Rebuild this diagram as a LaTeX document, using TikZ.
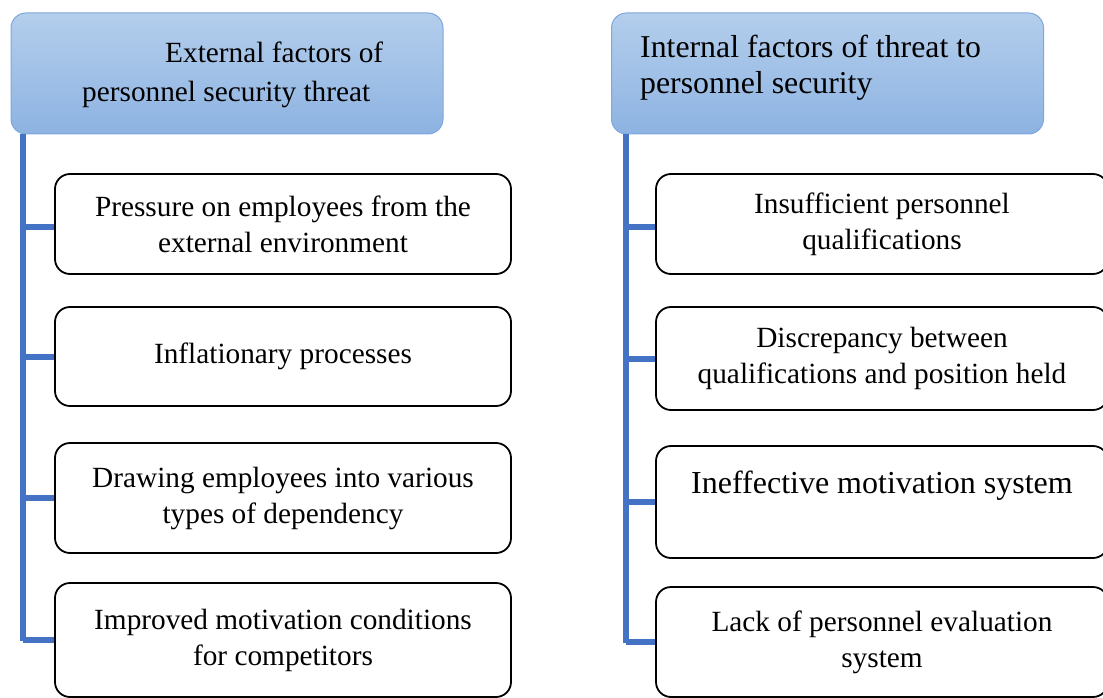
\documentclass[tikz,border=0pt]{standalone}
\usepackage{fontspec}
\setmainfont{Liberation Serif}
\definecolor{trunkblue}{HTML}{4472C4}
\definecolor{headtop}{HTML}{B4CEEC}
\definecolor{headbot}{HTML}{8DB3E2}
\definecolor{headline}{HTML}{7EA8DC}
\begin{document}
\begin{tikzpicture}[x=1pt,y=-1pt,
  every node/.style={font=\fontsize{29.3}{36}\selectfont},
  header/.style={draw=headline, line width=1pt, rounded corners=15pt, top color=headtop, bottom color=headbot, minimum width=432pt, minimum height=121pt, inner sep=0pt},
  headtext/.style={anchor=base west, inner sep=0pt},
  factorbox/.style={draw=black, line width=1.8pt, rounded corners=15pt, align=center, inner sep=0pt},
  trunk/.style={draw=trunkblue, line width=6.5pt},
  branch/.style={draw=trunkblue, line width=6pt}
]
\useasboundingbox (0,0) rectangle (1103,698);
% headers
\node[header] (hl) at (227,73.5) {};
\node[header] (hr) at (827.5,73.5) {};
\node[headtext] (hl1) at (165,63) {External factors of};
\node[headtext] (hl2) at (82,102) {personnel security threat};
\node[headtext, font=\fontsize{31.8}{36}\selectfont] (hr1) at (640,58) {Internal factors of threat to};
\node[headtext, font=\fontsize{31.8}{36}\selectfont] (hr2) at (640,94) {personnel security};
% left boxes
\node[factorbox, minimum width=456pt, minimum height=100pt] (l1) at (283,224) {Pressure on employees from the\\external environment};
\node[factorbox, minimum width=456pt, minimum height=99pt] (l2) at (283,356.5) {Inflationary processes};
\node[factorbox, minimum width=456pt, minimum height=110pt] (l3) at (283,498) {Drawing employees into various\\types of dependency};
\node[factorbox, minimum width=456pt, minimum height=114pt] (l4) at (283,640) {Improved motivation conditions\\for competitors};
% right boxes
\node[factorbox, minimum width=452pt, minimum height=100pt] (r1) at (882,224) {Insufficient personnel\\qualifications};
\node[factorbox, minimum width=452pt, minimum height=103pt] (r2) at (882,358.5) {Discrepancy between\\qualifications and position held};
\node[factorbox, minimum width=452pt, minimum height=112pt, font=\fontsize{32}{40}\selectfont] (r3) at (882,502) {Ineffective motivation system\\\mbox{}};
\node[factorbox, minimum width=452pt, minimum height=110pt] (r4) at (882,642) {Lack of personnel evaluation\\system};
% connectors
\coordinate (lt) at (23,134);
\coordinate (rt) at (626,134);
\draw[trunk] (lt) -- ([yshift=-1pt]lt |- l4.west);
\draw[branch] ([yshift=-3pt]lt |- l1.west) -- ([yshift=-3pt]l1.west);
\draw[branch] (lt |- l2.west) -- (l2.west);
\draw[branch] (lt |- l3.west) -- (l3.west);
\draw[branch] (lt |- l4.west) -- (l4.west);
\draw[trunk] (rt) -- ([yshift=-1pt]rt |- r4.west);
\draw[branch] ([yshift=-3pt]rt |- r1.west) -- ([yshift=-3pt]r1.west);
\draw[branch] (rt |- r2.west) -- (r2.west);
\draw[branch] (rt |- r3.west) -- (r3.west);
\draw[branch] (rt |- r4.west) -- (r4.west);
\end{tikzpicture}
\end{document}
